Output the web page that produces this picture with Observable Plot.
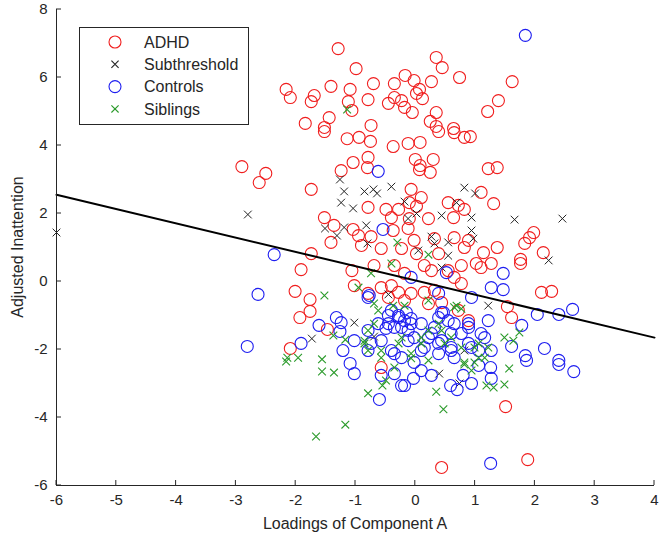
<!DOCTYPE html>
<html><head><meta charset="utf-8">
<script src="https://cdn.jsdelivr.net/npm/d3@7"></script>
<script src="https://cdn.jsdelivr.net/npm/@observablehq/plot@0.6"></script>
<style>
body{margin:0;background:#fff;font-family:"Liberation Sans",Arial,Helvetica,sans-serif}
#chart{position:relative;width:663px;height:546px}
</style>
</head><body><div id="chart"></div>
<script>
// ---- data ----
const xTicks = [-6,-5,-4,-3,-2,-1,0,1,2,3,4];
const yTicks = [-6,-4,-2,0,2,4,6,8];
const legendLabels = ["ADHD","Subthreshold","Controls","Siblings"];
const xLabel = "Loadings of Component A";
const yLabel = "Adjusted Inattention";

const adhd = [
[-1.29,6.85],[-0.99,6.26],[-2.16,5.65],[-2.09,5.41],[-1.69,5.47],[-1.74,5.29],[-1.41,5.74],[-1.09,5.65],[-0.70,5.82],[-0.35,5.82],[-1.12,5.29],[-1.06,5.03],[-0.79,5.35],[-0.45,5.24],[-0.35,5.41],[-1.44,4.82],[-1.84,4.65],[-1.52,4.53],[-0.74,4.59],
[0.35,6.59],[0.45,6.29],[-0.17,6.06],[-0.02,5.91],[0.27,5.88],[0.74,6.0],[1.62,5.88],[0.07,5.65],[0.02,5.53],[0.12,5.38],[1.39,5.32],[1.21,5.0],[-0.23,5.32],[-0.18,5.12],[-0.05,4.97],[0.35,4.97],[0.25,4.71],[0.35,4.56],[0.64,4.5],
[-2.9,3.38],[-2.5,3.18],[-2.61,2.91],
[-1.52,4.41],[-1.14,4.2],[-0.94,4.24],[-0.75,4.12],[-0.37,3.97],[-0.12,4.06],[0.08,4.09],[0.39,4.41],[0.65,4.38],[0.82,4.24],[0.92,4.26],[-0.79,3.65],[-1.04,3.5],[-1.24,3.26],[-0.80,3.35],[0.0,3.59],[0.30,3.59],[0.08,3.41],[0.07,3.29],[0.25,3.21],[-1.74,2.71],[-0.07,2.71],[0.10,2.47],[-0.79,2.18],[-0.10,2.32],[0.02,2.21],[0.55,2.32],[0.72,2.24],[0.82,2.12],[-0.49,2.12],[-0.28,2.12],[-0.40,1.88],[-0.10,1.85],[0.22,1.85],[0.64,1.88],[-1.52,1.88],[-1.36,1.65],[-1.04,1.53],[-0.95,1.35],[-0.74,1.32],[-0.37,1.50],[-0.12,1.56],[-0.02,1.21],[0.32,1.26],[0.65,1.29],[0.89,1.21],[-1.41,1.15],[-0.57,0.97],[-0.90,1.06],[-0.23,0.97],[0.02,0.82],[0.39,0.82],[0.82,1.0],[-1.74,0.82],
[1.22,3.32],[1.37,3.35],[1.1,2.62],[1.31,2.29],[1.98,1.44],[1.91,1.29],[1.83,1.12],[1.37,1.0],[1.14,0.85],[2.14,0.85],[1.76,0.65],
[1.76,0.53],[2.11,-0.32],[2.28,-0.29],[1.54,-0.74],[1.61,-1.06],
[-1.91,0.35],[-2.01,-0.29],[-1.76,-0.53],[-1.76,-0.88],[-1.93,-1.06],[-1.47,-1.41],[-2.09,-1.97],[-1.06,0.32],[-1.02,-0.12],
[-0.57,-2.53],[1.51,-3.68],[0.44,-5.47],[1.88,-5.24],
[-0.69,0.47],[-0.35,0.47],[0.15,0.47],[0.27,0.32],[0.55,0.32],[0.77,0.47],[1.02,0.53],[1.27,0.53],[-0.57,-0.18],[-0.40,-0.12],[-0.28,-0.32],[-0.45,-0.47],[-0.18,-0.56],[-0.07,-0.35],[0.15,-0.32],[0.32,-0.26],[0.65,0.12],[0.77,-0.06],[0.44,-0.62],[0.72,-0.85],[0.89,-1.15],[-0.18,0.24],[-0.79,-0.35],[0.22,-0.65],[1.10,0.41]
];

const subthreshold = [
[-6.0,1.44],[-2.8,1.97],
[-1.26,3.0],[-1.19,2.65],[-0.85,2.65],[-0.70,2.71],[-0.64,2.59],[-0.40,2.79],[-1.24,2.32],[-1.04,2.15],[-0.18,2.35],[0.82,2.76],[1.0,2.59],[0.69,2.32],[0.02,2.0],[-0.12,1.85],[0.44,1.94],[0.94,1.88],[-1.51,1.56],[-1.31,1.35],[-1.19,1.59],[-0.82,1.65],[-0.80,1.12],[0.27,1.32],[0.32,1.12],[0.55,1.15],[0.94,1.50],[0.97,1.26],[0.05,0.91],[0.55,0.76],
[1.66,1.82],[2.46,1.85],[2.23,0.62],
[-1.73,-1.68],[-1.02,-1.21],[0.40,-2.71],[0.74,-3.0],
[0.44,0.41],[1.22,-0.71],[-0.45,-0.38],[-0.69,-1.62],[0.82,-2.03]
];

const controls = [
[1.84,7.24],[-2.36,0.79],[-0.62,3.24],[-0.54,1.53],
[1.47,0.24],[1.47,-0.24],[2.04,-0.97],[2.40,-0.97],[2.63,-0.82],[1.78,-1.29],[1.61,-1.91],[2.16,-1.97],[1.84,-2.18],[2.40,-2.32],
[-2.63,-0.38],[-2.81,-1.91],[-1.61,-1.29],[-1.32,-1.06],[-1.24,-1.21],[-1.26,-1.47],[-1.91,-1.82],[-1.02,-1.74],[-1.21,-2.03],
[-1.02,-2.71],[-0.60,-3.47],[-1.09,-2.41],[-0.57,-2.76],[-0.35,-2.71],[-0.23,-3.06],
[1.26,-5.35],[2.40,-2.44],[2.65,-2.65],[1.26,-2.53],[1.27,-2.85],[0.59,-3.06],[0.70,-3.18],[0.80,-2.76],[0.94,-3.0],[1.06,-2.47],[-0.18,-3.06],[-0.03,-2.85],[0.10,-2.62],[0.27,-2.76],[1.86,-2.32],
[-0.07,0.12],[0.52,0.26],[1.27,-0.18],[0.94,-0.47],[0.39,-0.35],[-0.79,-0.47],[-0.40,-0.85],[-0.28,-1.06],[-0.18,-1.15],[-0.07,-1.24],[-0.23,-1.35],[-0.12,-1.44],[-0.45,-1.24],[0.44,-0.91],[0.55,-1.15],[0.77,-1.53],[1.22,-1.15],[1.16,-1.65],[0.89,-1.35],[0.22,-1.65],[0.39,-1.82],[0.60,-2.03],[0.10,-2.03],[-0.35,-2.12],[-0.57,-1.74],[-0.79,-2.03],[0.94,-1.94],[1.27,-2.03],[-0.02,-1.65],[0.32,-1.35],
[-0.77,-0.41],[-0.45,-1.0],[-0.28,-1.0],[-0.15,-0.91],[-0.07,-1.09],[-0.49,-1.38],[-0.35,-1.35],[-0.79,-1.44],[0.10,-1.24],[0.39,-1.06],[0.47,-0.91],[0.65,-1.24],[0.89,-1.24],[1.10,-1.53],[0.27,-1.53],[0.44,-1.74],[0.60,-1.53],[0.15,-1.94],[0.39,-2.12],[-0.40,-2.03],[-0.23,-2.24],[-0.02,-2.38],[0.65,-2.24],[0.60,-1.94],[0.89,-1.82],[1.06,-2.03],[-0.74,-1.82],[-0.12,-1.74],[-0.62,-1.24]
];

const siblings = [
[-1.14,5.06],[-0.30,1.15],[0.22,0.79],
[1.74,-1.5],[1.49,-1.65],[1.64,-1.74],
[-1.52,-0.41],[-1.37,-1.59],[-1.17,-1.71],[-2.14,-2.24],[-1.96,-2.24],[-1.56,-2.29],[-0.95,-0.18],
[-2.16,-2.35],[-1.56,-2.65],[-1.36,-2.68],[-0.79,-3.29],[-0.55,-3.06],[-1.17,-4.21],[-1.66,-4.56],[-0.49,-2.91],
[0.35,-3.24],[0.47,-3.76],[0.82,-2.44],[0.94,-2.62],[1.19,-3.06],[1.31,-3.12],[1.49,-3.03],[1.57,-2.56],
[-0.40,0.53],[-0.74,0.24],[0.22,-0.56],[0.65,-0.76],[-0.62,-0.85],[-0.69,-1.24],[-0.79,-1.44],[-0.23,-1.65],[-0.57,-2.03],[-0.85,-1.82],[0.44,-1.44],[0.10,-1.82],[0.60,-1.65],[1.06,-1.82],[0.77,-1.94],[-0.07,-2.12],[1.06,-2.24],[1.22,-1.94],
[-0.69,-0.65],[-0.37,-0.71],[-0.18,-0.71],[0.69,-0.71],[0.77,-0.80],[0.39,-1.24],[0.22,-1.44],[-0.85,-1.74],[-0.79,-2.03],[-0.57,-2.24],[-0.28,-1.82],[0.10,-1.65],[0.49,-1.82],[0.99,-1.94],[1.16,-2.24],[0.82,-2.38],[0.99,-2.38],[0.22,-2.32],[-0.07,-2.26],[-0.35,-2.53]
];

const fitX = [-6, 4];
const fitY = [2.55, -1.65];

// ---- styles ----
const colors = {ADHD:"#f01e1e", Subthreshold:"#222222", Controls:"#1e1ef0", Siblings:"#2a9a2a"};
const font = '"Liberation Sans", Arial, Helvetica, sans-serif';
const axisColor = "#262626";

const pts = a => a.map(([x,y]) => ({x,y}));
const fit = fitX.map((x,i) => ({x, y: fitY[i]}));
const fmt = d => d < 0 ? "-" + Math.abs(d) : String(d);

const plot = Plot.plot({
  width: 663, height: 546,
  marginLeft: 56, marginRight: 9, marginTop: 9, marginBottom: 61,
  style: {fontFamily: font, fontSize: "15px", color: axisColor, background: "#fff"},
  x: {domain: [-6, 4]},
  y: {domain: [-6, 8]},
  marks: [
    Plot.dot(pts(adhd), {x:"x", y:"y", r:6, stroke: colors.ADHD, strokeWidth:1.1, fill:"none"}),
    Plot.dot(pts(subthreshold), {x:"x", y:"y", r:3.6, symbol:"times", stroke: colors.Subthreshold, strokeWidth:1, fill:"none"}),
    Plot.dot(pts(controls), {x:"x", y:"y", r:6, stroke: colors.Controls, strokeWidth:1.1, fill:"none"}),
    Plot.dot(pts(siblings), {x:"x", y:"y", r:3.6, symbol:"times", stroke: colors.Siblings, strokeWidth:1.1, fill:"none"}),
    Plot.line(fit, {x:"x", y:"y", stroke:"#000", strokeWidth:2}),
    Plot.axisX({ticks: xTicks, tickSize: 0, tickPadding: 9, fontSize: 15, label: null, tickFormat: fmt}),
    Plot.axisY({ticks: yTicks, tickSize: 0, tickPadding: 9, fontSize: 15, label: null, tickFormat: fmt}),
    Plot.ruleX([-6], {stroke: axisColor}),
    Plot.ruleY([-6], {stroke: axisColor})
  ]
});

document.getElementById("chart").appendChild(plot);

// inward tick marks, axis titles & legend (pixel positions from the plot's own scales)
const svg = d3.select(plot);
const sx = plot.scale("x"), sy = plot.scale("y");
const tg = svg.append("g").attr("stroke", axisColor).attr("stroke-width", 1);
xTicks.forEach(t => tg.append("line").attr("x1", sx.apply(t)).attr("x2", sx.apply(t)).attr("y1", sy.apply(-6)).attr("y2", sy.apply(-6) - 5));
yTicks.forEach(t => tg.append("line").attr("y1", sy.apply(t)).attr("y2", sy.apply(t)).attr("x1", sx.apply(-6)).attr("x2", sx.apply(-6) + 5));

const midX = (sx.apply(-6) + sx.apply(4)) / 2, midY = (sy.apply(-6) + sy.apply(8)) / 2;
svg.append("text").attr("x", midX).attr("y", 529).attr("text-anchor", "middle")
  .attr("font-family", font).attr("font-size", 16).attr("fill", axisColor).text(xLabel);
svg.append("text").attr("transform", `translate(23,${midY}) rotate(-90)`).attr("text-anchor", "middle")
  .attr("font-family", font).attr("font-size", 16).attr("fill", axisColor).text(yLabel);

const lg = svg.append("g").attr("font-family", font).attr("font-size", 16).attr("text-anchor", "start");
lg.append("rect").attr("x", 79.5).attr("y", 27.5).attr("width", 169).attr("height", 97)
  .attr("fill", "#fff").attr("stroke", axisColor).attr("stroke-width", 1);
const sym = ["circle","times","circle","times"];
legendLabels.forEach((name, i) => {
  const cy = 42 + i * 22.3, cx = 115;
  if (sym[i] === "circle") {
    lg.append("circle").attr("cx", cx).attr("cy", cy).attr("r", 6).attr("fill", "none").attr("stroke", colors[name]).attr("stroke-width", 1.1);
  } else {
    lg.append("path").attr("d", `M${cx-3.6},${cy-3.6}L${cx+3.6},${cy+3.6}M${cx-3.6},${cy+3.6}L${cx+3.6},${cy-3.6}`).attr("stroke", colors[name]).attr("stroke-width", 1.1);
  }
  lg.append("text").attr("x", 144).attr("y", cy).attr("dy", "0.35em").attr("fill", axisColor).attr("text-anchor", "start").text(name);
});
</script>
</body></html>
